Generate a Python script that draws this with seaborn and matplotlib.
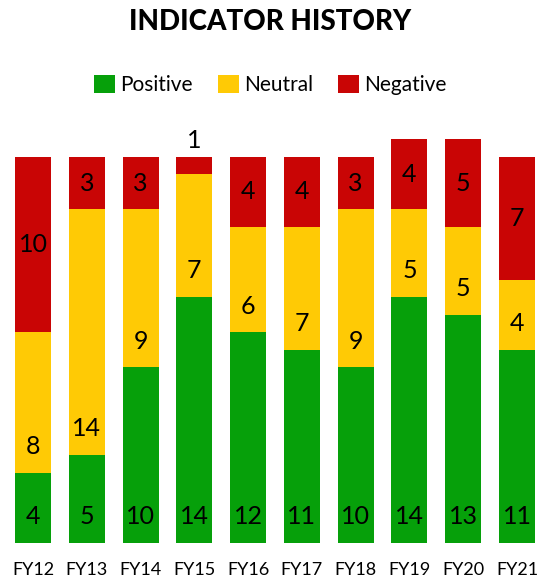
import matplotlib
matplotlib.use("Agg")
import matplotlib.pyplot as plt
import seaborn as sns
import numpy as np
import pandas as pd
from matplotlib.patches import Patch

categories = ["FY12", "FY13", "FY14", "FY15", "FY16", "FY17", "FY18", "FY19", "FY20", "FY21"]
positive = [4, 5, 10, 14, 12, 11, 10, 14, 13, 11]
neutral = [8, 14, 9, 7, 6, 7, 9, 5, 5, 4]
negative = [10, 3, 3, 1, 4, 4, 3, 4, 5, 7]
series_names = ["Positive", "Neutral", "Negative"]
colors = {"Positive": "#06A00A", "Neutral": "#FFCA05", "Negative": "#C90505"}

sns.set_theme(style="white")
plt.rcParams["font.family"] = ["Lato", "DejaVu Sans"]
plt.rcParams["text.color"] = "black"
plt.rcParams["xtick.color"] = "black"

pos = np.array(positive)
neu = np.array(neutral)
neg = np.array(negative)
df = pd.DataFrame({
    "cat": categories,
    "pos_top": pos,
    "neu_top": pos + neu,
    "neg_top": pos + neu + neg,
})

fig = plt.figure(figsize=(5.41, 5.82), dpi=100)
ax = fig.add_axes([11.5 / 541, 39 / 582, 527 / 541, 412.5 / 582])

bw = 0.67
sns.barplot(data=df, x="cat", y="neg_top", color=colors["Negative"], saturation=1, width=bw, linewidth=0, ax=ax)
sns.barplot(data=df, x="cat", y="neu_top", color=colors["Neutral"], saturation=1, width=bw, linewidth=0, ax=ax)
sns.barplot(data=df, x="cat", y="pos_top", color=colors["Positive"], saturation=1, width=bw, linewidth=0, ax=ax)

fs = 18
for i in range(len(categories)):
    ax.text(i, 1.5, str(pos[i]), ha="center", va="center", fontsize=fs, color="black")
    ax.text(i, pos[i] + 1.5, str(neu[i]), ha="center", va="center", fontsize=fs, color="black")
    if neg[i] >= 2:
        ax.text(i, pos[i] + neu[i] + neg[i] / 2, str(neg[i]), ha="center", va="center", fontsize=fs, color="black")
    else:
        ax.text(i, pos[i] + neu[i] + neg[i] + 0.3, str(neg[i]), ha="center", va="bottom", fontsize=fs, color="black")

ax.set_xlim(-0.4, len(categories) - 0.6)
ax.set_ylim(0, 23.5)
ax.set_xlabel("")
ax.set_ylabel("")
ax.set_yticks([])
ax.tick_params(axis="x", length=0, labelsize=13, pad=14, labelcolor="black")
for s in ax.spines.values():
    s.set_visible(False)

fig.text(0.5, 1 - 22 / 582, "INDICATOR HISTORY", ha="center", va="center", fontsize=20,
         fontweight="black", color="black")

handles = [Patch(facecolor=colors[n], edgecolor="none") for n in series_names]
leg = fig.legend(handles, series_names, loc="center", bbox_to_anchor=(0.5, 1 - 85 / 582), ncol=3,
                 frameon=False, fontsize=15, handlelength=1.0, handleheight=1.0, handletextpad=0.25,
                 columnspacing=1.2)
for t in leg.get_texts():
    t.set_color("black")

fig.savefig("out.png", dpi=100)
